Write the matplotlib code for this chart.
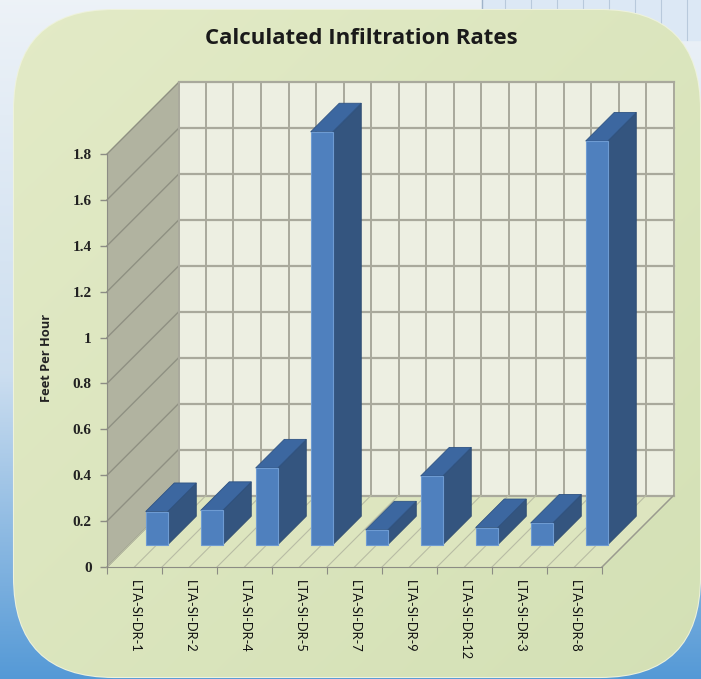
import numpy as np
import matplotlib
matplotlib.use("Agg")
import matplotlib.pyplot as plt
from matplotlib.patches import Polygon, FancyBboxPatch

# ---- data ----
categories = ["LTA-SI-DR-1", "LTA-SI-DR-2", "LTA-SI-DR-4", "LTA-SI-DR-5", "LTA-SI-DR-7",
              "LTA-SI-DR-9", "LTA-SI-DR-12", "LTA-SI-DR-3", "LTA-SI-DR-8"]
rates = [0.145, 0.15, 0.335, 1.80, 0.065, 0.30, 0.075, 0.095, 1.76]
y_ticks = [0, 0.2, 0.4, 0.6, 0.8, 1.0, 1.2, 1.4, 1.6, 1.8]
y_tick_labels = ["0", "0.2", "0.4", "0.6", "0.8", "1", "1.2", "1.4", "1.6", "1.8"]
title = "Calculated Infiltration Rates"
y_label = "Feet Per Hour"

W, H = 701, 679
fig = plt.figure(figsize=(W / 100, H / 100), dpi=100)

# ---- background ----
bg = fig.add_axes([0, 0, 1, 1], zorder=-10)
bg.set_xlim(0, W)
bg.set_ylim(H, 0)
bg.axis("off")
yy, xx = np.mgrid[0:H, 0:W]
t = yy / H
top = np.array([0.93, 0.95, 0.97])
mid = np.array([0.80, 0.87, 0.94])
bot = np.array([0.33, 0.60, 0.84])
img = np.where((t < 0.55)[..., None],
               top + (mid - top) * (t / 0.55)[..., None],
               mid + (bot - mid) * ((t - 0.55) / 0.45)[..., None])
bg.imshow(img, extent=(0, W, H, 0), aspect="auto", zorder=0)
# spreadsheet strip at top right
bg.add_patch(plt.Rectangle((482, 0), 219, 40, color="#dce8f5", zorder=1))
for gx in np.arange(505, 701, 26):
    bg.plot([gx, gx], [0, 40], color="#b8c9dc", lw=0.8, zorder=1.1)
bg.plot([482, 482], [0, 40], color="#9fb3c9", lw=1.0, zorder=1.1)

panel = FancyBboxPatch((14, 10), 686, 667, boxstyle="round,pad=0,rounding_size=100",
                       facecolor="#d8e2b8", edgecolor="#eef2dc", lw=1.5, zorder=2)
bg.add_patch(panel)
u = (xx / W) * 0.5 + t * 0.5
pc0 = np.array([0.89, 0.92, 0.78])
pc1 = np.array([0.83, 0.88, 0.71])
pimg = pc0 + (pc1 - pc0) * u[..., None]
pim = bg.imshow(pimg, extent=(0, W, H, 0), aspect="auto", zorder=2.5)
pim.set_clip_path(panel)

# ---- main axes (front plane) ----
x0, x1, yb, yt = 107, 602, 567, 154
ax = fig.add_axes([x0 / W, (H - yb) / H, (x1 - x0) / W, (yb - yt) / H])
n = len(categories)
ymax = 1.8
ax.set_xlim(0, n)
ax.set_ylim(0, ymax)
ax.patch.set_visible(False)

pxx = (x1 - x0) / n
pxy = (yb - yt) / ymax
D = 71.5
Dx, Dy = D / pxx, D / pxy


def P(x, v, d):
    return (x + d * Dx, v + d * Dy)


# left wall
ax.add_patch(Polygon([P(0, 0, 0), P(0, 0, 1), P(0, ymax, 1), P(0, ymax, 0)],
                     closed=True, facecolor="#b1b3a0", edgecolor="none", clip_on=False, zorder=1))
# back wall
ax.add_patch(Polygon([P(0, 0, 1), P(n, 0, 1), P(n, ymax, 1), P(0, ymax, 1)],
                     closed=True, facecolor="#edefe2", edgecolor="none", clip_on=False, zorder=1))
# floor
ax.add_patch(Polygon([P(0, 0, 0), P(n, 0, 0), P(n, 0, 1), P(0, 0, 1)],
                     closed=True, facecolor="#dde5bf", edgecolor="none", clip_on=False, zorder=1))

gc = "#a9a99c"
for v in y_ticks:
    a, b = P(0, v, 0), P(0, v, 1)
    ax.plot([a[0], b[0]], [a[1], b[1]], color="#8f9082", lw=1.0, clip_on=False, zorder=2)
    a, b = P(0, v, 1), P(n, v, 1)
    ax.plot([a[0], b[0]], [a[1], b[1]], color=gc, lw=1.6, clip_on=False, zorder=2)
for xg in np.arange(0, n + 0.01, 0.5):
    a, b = P(xg, 0, 1), P(xg, ymax, 1)
    ax.plot([a[0], b[0]], [a[1], b[1]], color=gc, lw=1.4, clip_on=False, zorder=2)
    a, b = P(xg, 0, 0), P(xg, 0, 1)
    ax.plot([a[0], b[0]], [a[1], b[1]], color="#b8bca4", lw=0.8, clip_on=False, zorder=2)
a, b = P(n, 0, 0), P(n, 0, 1)
ax.plot([a[0], b[0]], [a[1], b[1]], color="#9a9b8e", lw=1.0, clip_on=False, zorder=2)

# bars
d0, d1 = 0.31, 0.71
half = 0.2
for i, h in enumerate(rates):
    xl, xr = i + 0.5 - half, i + 0.5 + half
    side = [P(xr, 0, d0), P(xr, 0, d1), P(xr, h, d1), P(xr, h, d0)]
    topf = [P(xl, h, d0), P(xr, h, d0), P(xr, h, d1), P(xl, h, d1)]
    front = [P(xl, 0, d0), P(xr, 0, d0), P(xr, h, d0), P(xl, h, d0)]
    ax.add_patch(Polygon(side, closed=True, facecolor="#34557f", edgecolor="#2c4a70",
                         lw=0.6, clip_on=False, zorder=5))
    ax.add_patch(Polygon(topf, closed=True, facecolor="#3c67a0", edgecolor="#2f5383",
                         lw=0.6, clip_on=False, zorder=5))
    ax.add_patch(Polygon(front, closed=True, facecolor="#4f80be", edgecolor="#6e9bd2",
                         lw=0.8, clip_on=False, zorder=6))

# axes styling
for s in ["top", "right"]:
    ax.spines[s].set_visible(False)
ax.spines["left"].set_color("#8c8c84")
ax.spines["bottom"].set_color("#8c8c84")
ax.set_yticks(y_ticks)
ax.set_yticklabels(y_tick_labels, fontsize=11, fontweight="bold",
                   family=["Liberation Serif", "DejaVu Serif"], color="#222222")
ax.tick_params(axis="y", direction="out", length=5, width=1, color="#8c8c84", pad=6)
ax.set_xticks(np.arange(0, n + 1))
ax.set_xticklabels([])
ax.set_xticks(np.arange(n) + 0.5, minor=True)
ax.set_xticklabels(categories, minor=True, rotation=-90, fontsize=9.3,
                   family=["Lato", "DejaVu Sans"], color="#111111", va="top", ha="center")
ax.tick_params(axis="x", which="major", direction="out", length=5, color="#8c8c84")
ax.tick_params(axis="x", which="minor", length=0, pad=9)
ax.set_ylabel(y_label, fontsize=9.3, fontweight="bold", family=["Open Sans", "DejaVu Sans"],
              color="#222222")
ax.yaxis.set_label_coords((53 - x0) / (x1 - x0), (yb - 358) / (yb - yt))

fig.text(361 / W, 1 - 39 / H, title, ha="center", va="center", fontsize=16,
         fontweight="bold", family=["Open Sans", "DejaVu Sans"], color="#1a1a1a")

fig.savefig("out.png", dpi=100)
